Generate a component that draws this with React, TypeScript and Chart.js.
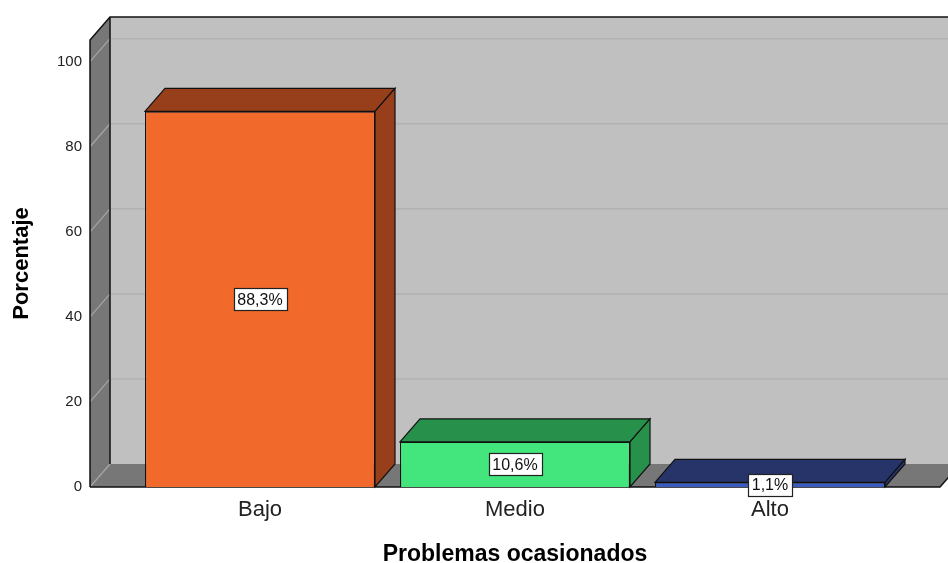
import React, { useEffect, useRef } from "react";
import Chart from "chart.js/auto";

const categories = ["Bajo", "Medio", "Alto"];
const percentages = [88.3, 10.6, 1.1];
const yTicks = [0, 20, 40, 60, 80, 100];
const yMax = 105.1;
const frontColors = ["#F26A2B", "#42E67C", "#3A5BBF"];
const depthColors = ["#973E1B", "#27914B", "#26346A"];
const xTitle = "Problemas ocasionados";
const yTitle = "Porcentaje";

const DX = 20;
const DY = -23;
const WALL = 42.5;

function fmt(v: number): string {
  return v.toFixed(1).replace(".", ",") + "%";
}

const threeD = {
  id: "threeD",
  beforeDatasetsDraw(chart: any) {
    const { ctx, chartArea, width } = chart;
    const ys = chart.scales.y;
    const base = ys.getPixelForValue(0);
    const top = chartArea.top;
    const L = chartArea.left - WALL;
    const R = chartArea.right + WALL;
    ctx.save();
    // back wall
    ctx.fillStyle = "#c0c0c0";
    ctx.fillRect(L + DX, top + DY, width - (L + DX) + 5, base - top);
    // back wall gridlines
    ctx.strokeStyle = "#b2b2b2";
    ctx.lineWidth = 1.5;
    yTicks.forEach((v) => {
      if (v === 0) return;
      const p = ys.getPixelForValue(v) + DY;
      ctx.beginPath();
      ctx.moveTo(L + DX, p);
      ctx.lineTo(width + 5, p);
      ctx.stroke();
    });
    // left wall
    ctx.fillStyle = "#777777";
    ctx.beginPath();
    ctx.moveTo(L, top);
    ctx.lineTo(L + DX, top + DY);
    ctx.lineTo(L + DX, base + DY);
    ctx.lineTo(L, base);
    ctx.closePath();
    ctx.fill();
    // floor
    ctx.beginPath();
    ctx.moveTo(L, base);
    ctx.lineTo(L + DX, base + DY);
    ctx.lineTo(R + DX, base + DY);
    ctx.lineTo(R, base);
    ctx.closePath();
    ctx.fill();
    // left wall diagonals
    ctx.strokeStyle = "#a6a6a6";
    ctx.lineWidth = 1.2;
    yTicks.forEach((v) => {
      const p = ys.getPixelForValue(v);
      ctx.beginPath();
      ctx.moveTo(L, p);
      ctx.lineTo(L + DX, p + DY);
      ctx.stroke();
    });
    // outlines
    ctx.strokeStyle = "#111";
    ctx.lineWidth = 1.5;
    ctx.beginPath();
    ctx.moveTo(L, base);
    ctx.lineTo(L, top);
    ctx.lineTo(L + DX, top + DY);
    ctx.lineTo(width + 5, top + DY);
    ctx.moveTo(L + DX, top + DY);
    ctx.lineTo(L + DX, base + DY);
    ctx.moveTo(L, base);
    ctx.lineTo(R, base);
    ctx.lineTo(R + DX, base + DY);
    ctx.stroke();

    // bar depth faces
    const meta = chart.getDatasetMeta(0);
    meta.data.forEach((bar: any, i: number) => {
      const { x, y, base: b, width: w } = bar.getProps(["x", "y", "base", "width"], true);
      const x0 = x - w / 2;
      const x1 = x + w / 2;
      ctx.fillStyle = depthColors[i];
      ctx.strokeStyle = "#111";
      ctx.lineWidth = 1.2;
      // top face
      ctx.beginPath();
      ctx.moveTo(x0, y);
      ctx.lineTo(x0 + DX, y + DY);
      ctx.lineTo(x1 + DX, y + DY);
      ctx.lineTo(x1, y);
      ctx.closePath();
      ctx.fill();
      ctx.stroke();
      // side face
      ctx.beginPath();
      ctx.moveTo(x1, y);
      ctx.lineTo(x1 + DX, y + DY);
      ctx.lineTo(x1 + DX, b + DY);
      ctx.lineTo(x1, b);
      ctx.closePath();
      ctx.fill();
      ctx.stroke();
    });
    ctx.restore();
  },
  afterDatasetsDraw(chart: any) {
    const { ctx } = chart;
    const meta = chart.getDatasetMeta(0);
    ctx.save();
    ctx.font = "16px 'Liberation Sans', Arial, sans-serif";
    ctx.textAlign = "center";
    ctx.textBaseline = "middle";
    meta.data.forEach((bar: any, i: number) => {
      const { x, y, base } = bar.getProps(["x", "y", "base"], true);
      const text = fmt(percentages[i]);
      const tw = ctx.measureText(text).width;
      const bw = Math.round(tw + 8);
      const bh = 22;
      const cy = (y + base) / 2;
      const bx = Math.round(x - bw / 2) + 0.5;
      const by = Math.round(cy - bh / 2) + 0.5;
      ctx.fillStyle = "#ffffff";
      ctx.fillRect(bx, by, bw, bh);
      ctx.strokeStyle = "#222";
      ctx.lineWidth = 1.2;
      ctx.strokeRect(bx, by, bw, bh);
      ctx.fillStyle = "#111";
      ctx.fillText(text, x, cy + 1);
    });
    ctx.restore();
  },
};

export default function App() {
  const ref = useRef<HTMLCanvasElement | null>(null);
  useEffect(() => {
    if (!ref.current) return;
    Chart.defaults.font.family = "'Liberation Sans', Arial, sans-serif";
    const chart = new Chart(ref.current, {
      type: "bar",
      data: {
        labels: categories,
        datasets: [
          {
            data: percentages,
            backgroundColor: frontColors,
            borderColor: "#111",
            borderWidth: 1.2,
            barPercentage: 0.902,
            categoryPercentage: 1,
          },
        ],
      },
      options: {
        animation: false,
        responsive: true,
        maintainAspectRatio: false,
        layout: { padding: { left: 0, top: 40, right: 50.5, bottom: 0 } },
        plugins: { legend: { display: false }, tooltip: { enabled: false } },
        scales: {
          x: {
            grid: { display: false, drawTicks: false },
            border: { display: false },
            ticks: { font: { size: 22 }, color: "#222", padding: 10 },
            title: {
              display: true,
              text: xTitle,
              color: "#000",
              font: { size: 23, weight: "bold" },
              padding: { top: 0, bottom: -5 },
            },
            afterFit: (s: any) => {
              s.height = 76;
            },
          },
          y: {
            min: 0,
            max: yMax,
            grid: { display: false, drawTicks: true, tickLength: 46.5 },
            border: { display: false },
            ticks: { font: { size: 15 }, color: "#222", padding: 4 },
            afterBuildTicks: (s: any) => {
              s.ticks = yTicks.map((v) => ({ value: v }));
            },
            title: {
              display: true,
              text: yTitle,
              color: "#000",
              font: { size: 22, weight: "bold" },
              padding: { top: 9, bottom: 0 },
            },
            afterFit: (s: any) => {
              s.width = 132.5;
            },
          },
        },
      },
      plugins: [threeD],
    } as any);
    return () => chart.destroy();
  }, []);
  return (
    <div style={{ position: "absolute", left: 0, top: 0, width: 948, height: 563 }}>
      <canvas ref={ref} />
    </div>
  );
}
